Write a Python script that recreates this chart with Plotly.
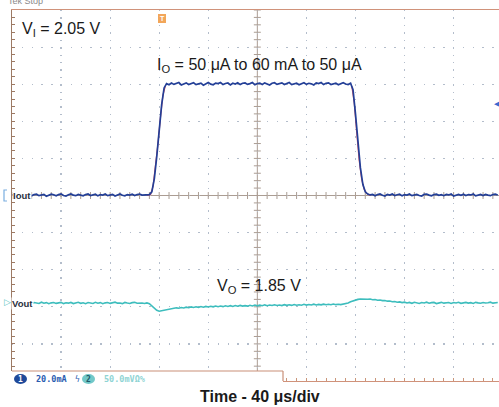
import numpy as np
import plotly.graph_objects as go

# ---------------- data ----------------
# sample times in microseconds (2 us spacing), 40 us/div
time_us = np.arange(0, 398, 2)

# Iout in mA (20 mA/div)
iout_ma = [
    0.4, -0.1, 0.7, 0.2, -0.3, 0.5, 0.8, 0.1, -0.2, 0.5,
    0.7, -0.1, 0.3, 0.6, -0.4, 0.2, 0.7, 0.4, -0.2, 0.5,
    0.9, 0.0, -0.3, 0.4, 0.8, 0.2, -0.1, 0.6, 0.3, -0.2,
    0.5, 0.8, 0.0, 0.3, 0.7, -0.2, 0.5, 0.2, 0.8, -0.1,
    0.4, 0.6, -0.3, 0.3, 0.8, 0.1, -0.2, 0.5, 0.2, 0.7,
    0.0, 0.5, 0.8, 0.2, 0.4, 0.6, 0.5,
    2.0, 9.0, 21.0, 35.0, 49.0, 58.0, 60.3,
    59.7, 60.6, 59.9, 60.4, 60.9, 59.6, 60.3, 60.7, 59.8, 60.5,
    60.8, 59.8, 60.2, 60.6, 59.5, 60.4, 60.9, 60.0, 59.7, 60.6,
    60.3, 60.9, 59.8, 60.4, 60.7, 59.6, 60.5, 60.1, 60.8, 59.8,
    60.5, 60.7, 59.9, 60.3, 60.9, 59.7, 60.4, 60.6, 59.8, 60.7,
    60.2, 59.6, 60.5, 60.8, 59.9, 60.3, 60.7, 59.8, 60.5, 60.9,
    59.8, 60.1, 60.6, 59.7, 60.4, 60.8, 59.9, 60.5, 60.2, 59.6,
    60.7, 60.3, 60.9, 59.8, 60.5, 60.7, 59.8, 60.2, 60.6, 59.7,
    60.4, 60.8, 60.1, 59.8, 60.5,
    57.0, 44.0, 28.0, 15.0, 6.0, 2.0, 0.8,
    0.3, 0.6, -0.1, 0.5, 0.8, 0.1, -0.3, 0.6, 0.2, 0.8,
    0.0, 0.4, 0.7, -0.2, 0.5, 0.2, 0.8, -0.1, 0.3, 0.6,
    0.0, -0.3, 0.6, 0.8, 0.2, -0.2, 0.5, 0.7, 0.1, 0.4,
    -0.1, 0.6, 0.3, 0.8, -0.3, 0.2, 0.6, 0.1, 0.7, 0.0,
    0.5, 0.3, 0.8, -0.2, 0.4, 0.6, 0.0, 0.6, 0.2, -0.1,
    0.5, 0.7, 0.3,
]

# reference (red) load-current edges, mA (None separates rise and fall)
ref_t_us = [110, 113, 115, 117, 119, 121, 123, 125, None, 277, 279, 281, 283, 285, 287, 289, 292]
ref_ma = [0, 0.5, 5, 15, 28, 42, 54, 59, None, 59, 50, 34, 19, 9, 3.5, 1.2, 0]

# Vout deviation in mV (50 mV/div, AC coupled)
vout_mv = [
    0.5, -0.8, 0.9, 0.2, -0.6, 1.1, -0.3, 0.4, -1.0, 0.7,
    0.1, -0.5, 1.2, -0.2, 0.6, -0.9, 0.3, 0.8, -0.4, 0.0,
    1.0, -0.7, 0.5, -0.1, 0.9, -0.6, 0.2, 1.1, -0.3, 0.4,
    -0.8, 0.7, 0.1, -0.5, 1.0, -0.2, 0.6, -0.9, 0.3, 0.8,
    -0.4, 0.5, 1.2, -0.1, 0.2, -0.7, 0.9, 0.0, -0.5, 0.6,
    1.0, -0.3, 0.4, 0.1, -0.6, 0.3,
    -0.8, -3.5, -7.0, -9.8, -11.0, -10.4, -9.6, -9.0, -8.3, -7.9,
    -7.2, -6.4, -7.0, -5.9, -6.6, -5.5, -6.3, -5.2, -6.0, -5.0,
    -5.8, -4.7, -5.6, -4.5, -5.3, -4.2, -5.1, -3.9, -4.9, -4.0,
    -4.8, -3.6, -4.5, -3.5, -4.6, -3.3, -4.2, -3.1, -4.0, -3.4,
    -4.1, -2.9, -3.8, -2.7, -3.7, -2.8, -3.6, -2.4, -3.5, -2.6,
    -3.3, -2.2, -3.2, -2.5, -3.4, -2.1, -3.0, -2.3, -3.1, -1.9,
    -2.9, -2.2, -2.8, -1.7, -2.7, -1.9, -2.6, -1.5, -2.5, -1.8,
    -2.4, -1.4, -2.3, -1.6, -2.2, -1.2, -2.1, -1.5, -2.0, -1.3,
    -1.0, 0.2, 1.8, 3.2, 4.3, 5.0, 5.6, 5.2, 5.8, 5.1, 5.4, 4.6, 4.9, 3.9, 4.2,
    3.3, 3.5, 2.6, 2.8, 1.9, 2.1, 1.2, 1.6,
    0.7, 1.3, 0.2, 0.9, -0.3, 1.1, 0.4, -0.5, 0.8, 0.1,
    1.2, -0.2, 0.6, 0.9, -0.6, 0.3, 1.0, -0.1, 0.5, 0.8,
    -0.4, 0.7, 0.2, 1.1, -0.3, 0.4, 0.9, 0.0, 0.6, -0.5,
    1.0, 0.3, -0.2, 0.8, 0.1, 0.5, 1.2, -0.1, 0.4, 0.7,
]

IOUT_SCALE = 20.0   # mA/div
VOUT_SCALE = 50.0   # mV/div
IOUT_OFFSET = 0.0   # div
VOUT_OFFSET = -2.9  # div

# ---------------- geometry helpers (layout only) ----------------
W, H = 499, 407
L, T, B = 12, 10, 381
def px2x(px):
    return (px - L) / (W - L)
def px2y(py):
    return (B - py) / (B - T)

iout_div = np.array(iout_ma) / IOUT_SCALE + IOUT_OFFSET
ref_div = [None if v is None else v / IOUT_SCALE + IOUT_OFFSET for v in ref_ma]
vout_div = np.array(vout_mv) / VOUT_SCALE + VOUT_OFFSET

CROSS = "#ab9d93"
fig = go.Figure()

# crosshair minor ticks
fig.add_trace(go.Scatter(x=np.arange(0, 400, 8), y=np.zeros(50), mode="markers",
                         marker=dict(symbol="line-ns-open", size=5, color=CROSS,
                                     line=dict(color=CROSS, width=1)),
                         hoverinfo="skip"))
fig.add_trace(go.Scatter(x=np.full(51, 200.0), y=np.round(np.arange(-5, 5.01, 0.2), 3), mode="markers",
                         marker=dict(symbol="line-ew-open", size=5, color=CROSS,
                                     line=dict(color=CROSS, width=1)),
                         hoverinfo="skip"))

fig.add_trace(go.Scatter(x=ref_t_us, y=ref_div, mode="lines", connectgaps=False,
                         line=dict(color="#e0505a", width=1.2), hoverinfo="skip"))
fig.add_trace(go.Scatter(x=time_us, y=iout_div, mode="lines",
                         line=dict(color="#233f97", width=1.7), hoverinfo="skip"))
fig.add_trace(go.Scatter(x=time_us, y=vout_div, mode="lines",
                         line=dict(color="#3dbdbd", width=1.6), hoverinfo="skip"))

shapes = [
    dict(type="line", xref="paper", yref="y", x0=0, x1=1, y0=0, y1=0,
         line=dict(color=CROSS, width=1), layer="below"),
    dict(type="line", xref="x", yref="paper", x0=200, x1=200, y0=0, y1=1,
         line=dict(color=CROSS, width=1), layer="below"),
    # status bar
    dict(type="rect", xref="paper", yref="paper", x0=px2x(L - 2), x1=px2x(283), y0=px2y(389), y1=px2y(371),
         fillcolor="white", line=dict(width=0), layer="above"),
    dict(type="line", xref="paper", yref="paper", x0=0, x1=px2x(283), y0=px2y(371), y1=px2y(371),
         line=dict(color="#c98f78", width=1.2)),
    dict(type="line", xref="paper", yref="paper", x0=px2x(283), x1=px2x(283), y0=px2y(371), y1=px2y(381),
         line=dict(color="#c98f78", width=1.2)),
    dict(type="circle", xref="paper", yref="paper", x0=px2x(14), x1=px2x(27), y0=px2y(384), y1=px2y(374),
         fillcolor="#1f4a9a", line=dict(width=0)),
    dict(type="circle", xref="paper", yref="paper", x0=px2x(82), x1=px2x(95), y0=px2y(384), y1=px2y(374),
         fillcolor="#72c8c8", line=dict(width=0)),
    # trigger marker at top
    dict(type="rect", xref="paper", yref="paper", x0=px2x(158), x1=px2x(166), y0=px2y(23), y1=px2y(14),
         fillcolor="#f2a65a", line=dict(width=0)),
    # channel 1 marker bracket
    dict(type="path", xref="paper", yref="paper",
         path=f"M {px2x(7)},{px2y(190)} L {px2x(4)},{px2y(190)} L {px2x(4)},{px2y(201)} L {px2x(7)},{px2y(201)}",
         line=dict(color="#7aaee0", width=1.2)),
]

def ann(text, px, py, size=16, color="#1a1a1a", xanchor="left", bold=False, family="Liberation Sans", bg=None):
    d = dict(text=f"<b>{text}</b>" if bold else text, x=px2x(px), y=px2y(py), xref="paper", yref="paper",
             xanchor=xanchor, yanchor="middle", showarrow=False,
             font=dict(size=size, color=color, family=family))
    if bg:
        d["bgcolor"] = bg
        d["borderpad"] = 0
    return d

mono = "DejaVu Sans Mono"
annotations = [
    ann("V<sub>I</sub> = 2.05 V", 20, 29),
    ann("I<sub>O</sub> = 50 μA to 60 mA to 50 μA", 155, 65),
    ann("V<sub>O</sub> = 1.85 V", 215, 286),
    ann("Time - 40 μs/div", 260, 396, size=16, xanchor="center", bold=True),
    ann("Iout", 12, 195, size=9.5, color="#2a3040", bold=True, bg="white"),
    ann("Vout", 11, 303, size=9.5, color="#2a3040", bold=True, bg="white"),
    ann("▷", 2, 302, size=9, color="#5cc4c4"),
    ann("1", 20.5, 379, size=8, color="white", xanchor="center", bold=True, family=mono),
    ann("20.0mA", 34, 379, size=8.5, color="#2a5cb0", bold=True, family=mono),
    ann("ϟ", 77, 379, size=8, color="#2a5cb0", xanchor="center", family=mono),
    ann("2", 88.5, 379, size=8, color="#1f5a6a", xanchor="center", bold=True, family=mono),
    ann("50.0mVΩ%", 102, 379, size=8.5, color="#8fd4d4", bold=True, family=mono),
    ann("T", 162, 18.5, size=7, color="white", xanchor="center", bold=True),
    ann("◀", 492, 104, size=7, color="#3a6ad0"),
    ann("Tek Stop", 6, 1, size=9, color="#8a8a8a"),
]

fig.update_layout(
    width=W, height=H,
    margin=dict(l=L, r=0, t=T, b=H - B, pad=0),
    paper_bgcolor="white", plot_bgcolor="white",
    showlegend=False,
    shapes=shapes, annotations=annotations,
    xaxis=dict(range=[0, 397], dtick=40, tick0=0, showgrid=True, gridcolor="#b3bdcb", gridwidth=1.2,
               griddash="1.4px,6.02px", zeroline=False, showticklabels=False,
               showline=True, linecolor="#d0927a", linewidth=1.2, mirror=True,
               ticks="inside", ticklen=3, tickcolor="#c9967a", tickwidth=1,
               minor=dict(dtick=8, tick0=0, ticks="inside", ticklen=3, tickcolor="#c9967a", showgrid=False),
               fixedrange=True),
    yaxis=dict(range=[-5, 5], dtick=1, tick0=0, showgrid=True, gridcolor="#b3bdcb", gridwidth=1.2,
               griddash="1.4px,8.4px", zeroline=False, showticklabels=False,
               showline=True, linecolor="#9c7a64", linewidth=1.2, mirror=False,
               ticks="inside", ticklen=3, tickcolor="#9c7a64", tickwidth=1,
               minor=dict(dtick=0.2, tick0=0, ticks="inside", ticklen=3, tickcolor="#9c7a64", showgrid=False),
               fixedrange=True),
)

fig.write_html("out.html", config={"staticPlot": True},
               post_script="document.body.style.margin='0';document.body.style.overflow='hidden';")
